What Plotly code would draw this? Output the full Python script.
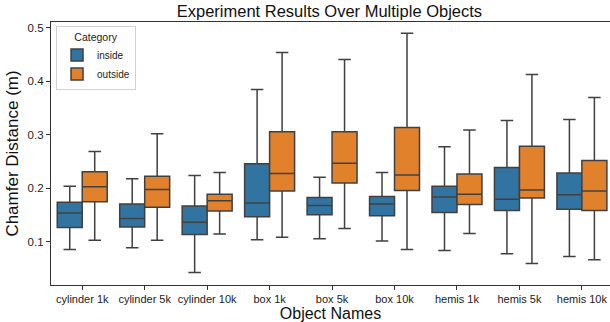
import plotly.graph_objects as go

categories = ["cylinder 1k", "cylinder 5k", "cylinder 10k", "box 1k", "box 5k",
              "box 10k", "hemis 1k", "hemis 5k", "hemis 10k"]

inside_low = [0.086, 0.089, 0.043, 0.104, 0.106, 0.102, 0.084, 0.078, 0.073]
inside_q1 = [0.127, 0.128, 0.114, 0.147, 0.151, 0.149, 0.155, 0.159, 0.161]
inside_med = [0.154, 0.144, 0.137, 0.173, 0.168, 0.171, 0.184, 0.180, 0.188]
inside_q3 = [0.174, 0.171, 0.167, 0.246, 0.183, 0.185, 0.204, 0.239, 0.229]
inside_high = [0.204, 0.218, 0.224, 0.385, 0.221, 0.230, 0.278, 0.327, 0.329]

outside_low = [0.103, 0.103, 0.115, 0.109, 0.125, 0.086, 0.116, 0.060, 0.067]
outside_q1 = [0.175, 0.165, 0.158, 0.195, 0.210, 0.196, 0.170, 0.182, 0.159]
outside_med = [0.203, 0.198, 0.177, 0.228, 0.247, 0.225, 0.189, 0.197, 0.195]
outside_q3 = [0.231, 0.223, 0.189, 0.306, 0.306, 0.314, 0.227, 0.279, 0.252]
outside_high = [0.269, 0.302, 0.230, 0.454, 0.441, 0.490, 0.309, 0.413, 0.370]

line_col = "#404040"
font = "Liberation Sans, Arial, sans-serif"

fig = go.Figure()
for name, color, low, q1, med, q3, high in [
    ("inside", "#3274a1", inside_low, inside_q1, inside_med, inside_q3, inside_high),
    ("outside", "#e1812c", outside_low, outside_q1, outside_med, outside_q3, outside_high),
]:
    fig.add_trace(go.Box(
        name=name, x=categories, q1=q1, median=med, q3=q3,
        lowerfence=low, upperfence=high, boxpoints=False,
        fillcolor=color, line=dict(color=line_col, width=1.5),
        whiskerwidth=0.5, offsetgroup=name,
    ))

fig.update_layout(
    width=610, height=322,
    margin=dict(l=51, r=0, t=22, b=37),
    paper_bgcolor="white", plot_bgcolor="white",
    boxmode="group", boxgap=0.2, boxgroupgap=0,
    font=dict(family=font, color="#222", size=11),
    title=dict(text="Experiment Results Over Multiple Objects", x=0.54, xanchor="center",
               y=0.965, yanchor="middle", font=dict(size=16.5, color="#111")),
    legend=dict(title=dict(text="Category", font=dict(size=10.5), side="top center"),
                x=0.009, y=0.985,
                xanchor="left", yanchor="top", bgcolor="white",
                bordercolor="#d0d0d0", borderwidth=1, font=dict(size=10),
                tracegroupgap=0),
    xaxis=dict(type="category", range=[-0.5, 8.45], showline=True, linecolor="#333",
               linewidth=1.2, mirror=True, ticks="outside", ticklen=4, tickcolor="#333",
               showgrid=False, zeroline=False, tickfont=dict(size=11),
               title=dict(text="Object Names", font=dict(size=16, color="#111"), standoff=3)),
    yaxis=dict(range=[0.0196, 0.511], tickvals=[0.1, 0.2, 0.3, 0.4, 0.5],
               ticktext=["0.1", "0.2", "0.3", "0.4", "0.5"],
               showline=True, linecolor="#333", linewidth=1.2, mirror=True,
               ticks="outside", ticklen=4, tickcolor="#333", showgrid=False, zeroline=False,
               tickfont=dict(size=11.5),
               title=dict(text="Chamfer Distance (m)", font=dict(size=17, color="#111"), standoff=4)),
)

fig.write_html("out.html")
